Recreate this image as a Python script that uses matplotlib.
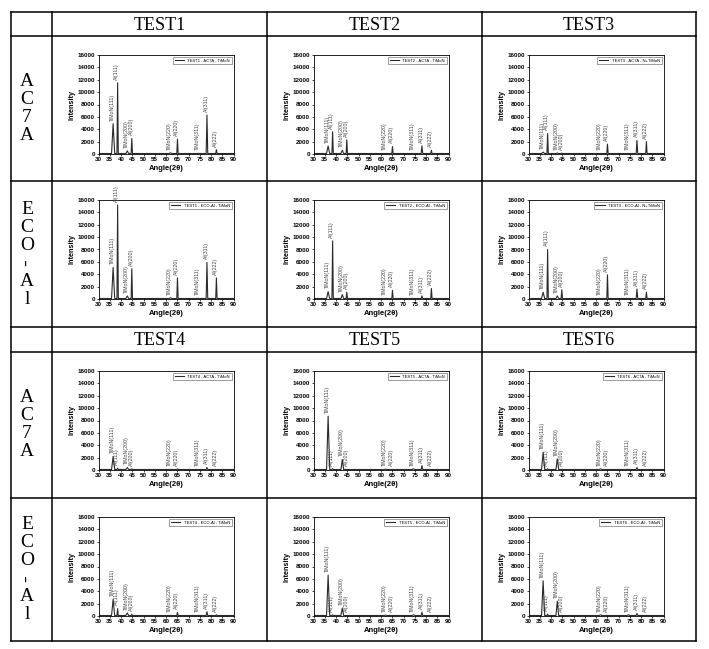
import numpy as np
import matplotlib.pyplot as plt
from matplotlib.lines import Line2D

# peak list (2theta) shared by every pattern
peak_names = ["TiMoN(111)", "Al(111)", "TiMoN(200)", "Al(200)", "TiMoN(220)",
              "Al(220)", "TiMoN(311)", "Al(311)", "Al(222)"]
peak_pos = [36.5, 38.5, 42.8, 44.8, 62.0, 65.1, 74.4, 78.2, 82.4]
peak_width = [0.7, 0.3, 0.6, 0.3, 0.6, 0.3, 0.6, 0.35, 0.3]

# peak heights
test1_ac7a = [4900, 11500, 500, 2500, 200, 2400, 100, 6300, 700]
test1_eco = [5100, 15200, 500, 4900, 200, 3400, 100, 5900, 3400]
test2_ac7a = [1300, 3600, 600, 2300, 80, 1200, 80, 1300, 600]
test2_eco = [1200, 9400, 700, 1100, 80, 1400, 80, 500, 1700]
test3_ac7a = [300, 3300, 150, 150, 80, 1600, 80, 2200, 2000]
test3_eco = [1100, 8000, 500, 1500, 80, 3900, 80, 1600, 1100]
test4_ac7a = [2200, 300, 400, 200, 80, 200, 80, 400, 80]
test4_eco = [2700, 1200, 500, 300, 80, 600, 80, 700, 200]
test5_ac7a = [8700, 200, 1700, 100, 150, 80, 200, 700, 80]
test5_eco = [6600, 200, 1300, 100, 150, 80, 200, 600, 80]
test6_ac7a = [2900, 200, 1800, 100, 200, 80, 100, 400, 80]
test6_eco = [5700, 300, 2400, 100, 200, 100, 200, 400, 80]

tests = ["TEST1", "TEST2", "TEST3", "TEST4", "TEST5", "TEST6"]
alloys = ["AC7A", "ECO-Al"]
coatings = ["TiMoN", "TiMoN", "N+TiMoN", "TiMoN", "TiMoN", "TiMoN"]
patterns = [[test1_ac7a, test2_ac7a, test3_ac7a], [test1_eco, test2_eco, test3_eco],
            [test4_ac7a, test5_ac7a, test6_ac7a], [test4_eco, test5_eco, test6_eco]]

W, H = 709, 649
col_edges = [11, 52, 267, 482, 696]
row_edges = [12, 36, 181, 327, 352, 498, 641]
base = 80

def fx(px):
    return px / W

def fy(py):
    return 1 - py / H

fig = plt.figure(figsize=(W / 100, H / 100), dpi=100)

# table grid
for y in row_edges:
    fig.add_artist(Line2D([fx(col_edges[0]), fx(col_edges[-1])], [fy(y), fy(y)],
                          color="black", lw=1.1))
for x in col_edges:
    fig.add_artist(Line2D([fx(x), fx(x)], [fy(row_edges[0]), fy(row_edges[-1])],
                          color="black", lw=1.1))

# header row text
for hr, (top, bot) in enumerate([(12, 36), (327, 352)]):
    for c in range(3):
        xc = (col_edges[c + 1] + col_edges[c + 2]) / 2
        fig.text(fx(xc), fy((top + bot) / 2 + 1), tests[hr * 3 + c], ha="center", va="center",
                 fontsize=13, family="Liberation Serif")

# vertical row labels
panel_rows = [(36, 181), (181, 327), (352, 498), (498, 641)]
for r, (top, bot) in enumerate(panel_rows):
    letters = list(alloys[r % 2])
    mid = (top + bot) / 2
    n = len(letters)
    for i, ch in enumerate(letters):
        yy = mid + (i - (n - 1) / 2) * 18
        fig.text(fx(27), fy(yy), ch, ha="center", va="center", fontsize=14,
                 family="Liberation Serif", rotation=90 if ch == "-" else 0)

# XRD panels
for r, (top, bot) in enumerate(panel_rows):
    for c in range(3):
        left = col_edges[c + 1] + 46.5
        ax = fig.add_axes([fx(left), fy(top + 19 + 99), 135 / W, 99 / H])
        heights = patterns[r][c]
        t = tests[(r // 2) * 3 + c]
        xs, ys = [30], [base]
        for p, h, w in sorted(zip(peak_pos, heights, peak_width)):
            xs += [p - w, p, p + w]
            ys += [base, max(h, base), base]
        xs.append(90)
        ys.append(base)
        ax.plot(xs, ys, color="#2a2a2a", lw=0.8,
                label=t + " - " + alloys[r % 2] + " - " + coatings[(r // 2) * 3 + c])
        for name, p, h in zip(peak_names, peak_pos, heights):
            ax.text(p - 0.3, max(h, base) + 500, name, rotation=90, ha="center", va="bottom",
                    fontsize=3.8, color="#444444", family="Liberation Sans")
        ax.set_xlim(30, 90)
        ax.set_ylim(0, 16000)
        ax.set_xticks(np.arange(30, 91, 5))
        ax.set_yticks(np.arange(0, 16001, 2000))
        ax.tick_params(labelsize=4.5, length=1.5, width=0.5, pad=1)
        for lab in ax.get_xticklabels() + ax.get_yticklabels():
            lab.set_fontweight("bold")
            lab.set_family("Liberation Sans")
        for sp in ax.spines.values():
            sp.set_linewidth(0.6)
        ax.set_xlabel("Angle(2θ)", fontsize=5.5, fontweight="bold", labelpad=1.5,
                      family="Liberation Sans")
        ax.set_ylabel("Intensity", fontsize=5.2, fontweight="bold", labelpad=1.5,
                      family="Liberation Sans")
        leg = ax.legend(loc="upper right", handlelength=2.2, borderpad=0.45,
                        fancybox=False, framealpha=1, borderaxespad=0.4,
                        prop={"family": "Liberation Sans", "size": 3})
        leg.get_frame().set_edgecolor("#555555")
        leg.get_frame().set_linewidth(0.4)

fig.savefig("out.png", dpi=100)
